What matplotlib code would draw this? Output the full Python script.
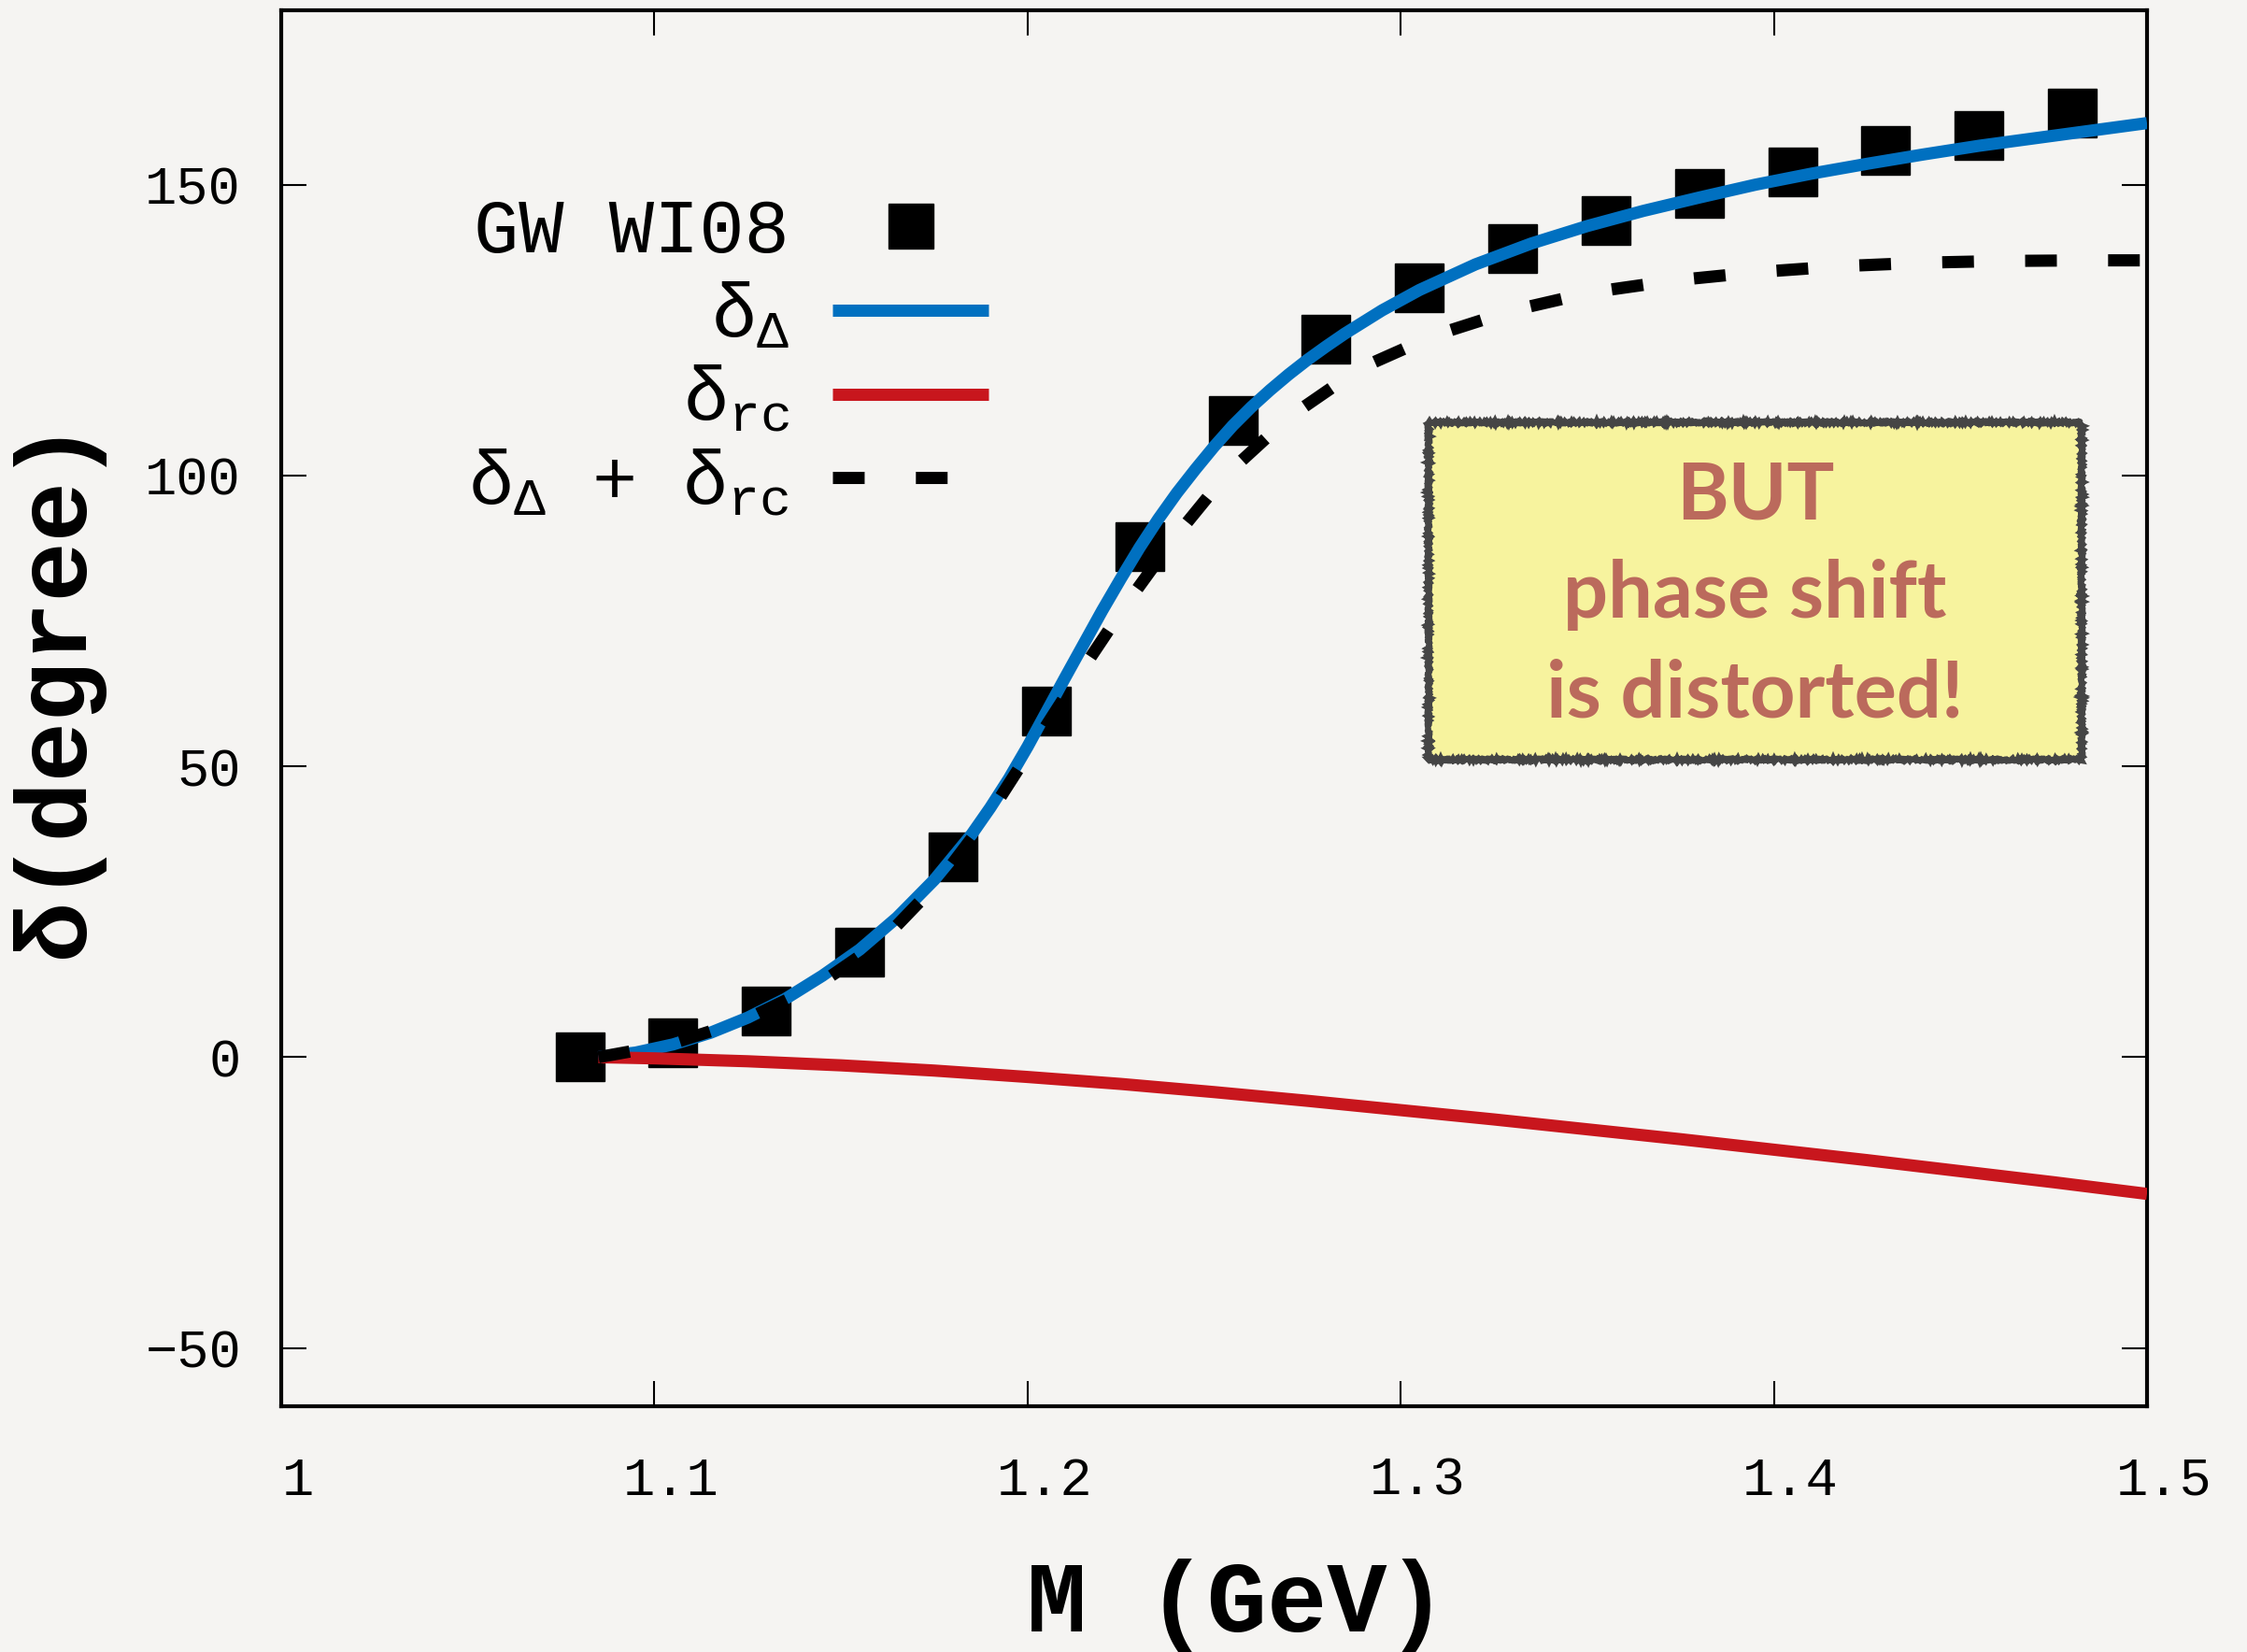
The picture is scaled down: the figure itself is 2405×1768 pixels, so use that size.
import numpy as np
import matplotlib
matplotlib.use("Agg")
import matplotlib.pyplot as plt
import matplotlib.transforms as mtransforms
from matplotlib.patches import Rectangle

plt.rcParams['font.family'] = ['Liberation Mono', 'DejaVu Sans Mono']
plt.rcParams['mathtext.fontset'] = 'custom'
plt.rcParams['mathtext.rm'] = 'Liberation Mono'
plt.rcParams['mathtext.it'] = 'Liberation Mono'
plt.rcParams['mathtext.bf'] = 'Liberation Mono:bold'

# GW WI08 partial-wave phase shifts
m_data = [1.08, 1.105, 1.13, 1.155, 1.18, 1.205, 1.23, 1.255, 1.28, 1.305,
          1.33, 1.355, 1.38, 1.405, 1.43, 1.455, 1.48]
delta_data = [0.0, 2.5, 8.0, 18.0, 34.4, 59.5, 87.8, 109.4, 123.5, 132.3,
              139.0, 143.9, 148.5, 152.2, 155.9, 158.4, 162.3]

# resonant part
m_res = [1.085, 1.095, 1.105, 1.115, 1.125, 1.135, 1.145, 1.155, 1.165, 1.175,
         1.185, 1.19, 1.195, 1.20, 1.205, 1.21, 1.215, 1.22, 1.225, 1.23,
         1.235, 1.24, 1.245, 1.25, 1.255, 1.26, 1.265, 1.27, 1.275, 1.28,
         1.285, 1.295, 1.305, 1.32, 1.335, 1.35, 1.365, 1.38, 1.395, 1.41,
         1.425, 1.44, 1.455, 1.47, 1.485, 1.50]
delta_res = [0.0, 0.8, 2.2, 4.2, 6.8, 10.0, 14.0, 18.5, 24.0, 30.5,
             38.3, 42.9, 47.9, 53.4, 59.3, 65.2, 71.0, 76.8, 82.3, 87.6,
             92.5, 97.0, 101.1, 105.0, 108.6, 111.8, 114.7, 117.4, 119.9, 122.2,
             124.4, 128.4, 131.9, 136.3, 139.9, 142.9, 145.5, 147.8, 150.0, 151.9,
             153.6, 155.2, 156.7, 158.0, 159.3, 160.6]

# rescattering correction
m_rc = [1.085, 1.10, 1.125, 1.15, 1.175, 1.20, 1.225, 1.25, 1.275, 1.30,
        1.325, 1.35, 1.375, 1.40, 1.425, 1.45, 1.475, 1.50]
delta_rc = [0.0, -0.2, -0.7, -1.4, -2.3, -3.4, -4.6, -6.0, -7.5, -9.1,
            -10.7, -12.4, -14.1, -15.9, -17.7, -19.6, -21.5, -23.5]

# sum of both
m_sum = [1.085, 1.104, 1.124, 1.144, 1.161, 1.176, 1.189, 1.202, 1.214, 1.226,
         1.239, 1.253, 1.270, 1.289, 1.309, 1.330, 1.351, 1.374, 1.396, 1.418,
         1.440, 1.462, 1.485, 1.50]
delta_sum = [0.0, 2.2, 6.3, 12.5, 20.0, 30.0, 41.0, 54.0, 66.0, 77.5,
             89.0, 100.0, 110.0, 118.4, 124.1, 128.4, 131.5, 133.6, 135.0, 136.0,
             136.6, 136.9, 137.0, 137.0]

bg = '#f5f4f2'
blue = '#0070c0'
red = '#c8161d'

fig = plt.figure(figsize=(24.05, 17.68), dpi=100, facecolor=bg)
ax = fig.add_axes([0.1252, 0.1488, 0.8303, 0.845])
ax.set_facecolor(bg)

ax.plot(m_data, delta_data, linestyle='none', marker='s', markersize=37,
        color='black', label='GW WI08', zorder=3)
ax.plot(m_res, delta_res, color=blue, lw=9.4, solid_capstyle='butt',
        solid_joinstyle='round', label=r'$\delta_{\Delta}$', zorder=4)
ax.plot(m_rc, delta_rc, color=red, lw=9.4, solid_capstyle='butt',
        solid_joinstyle='round', label=r'$\delta_{rc}$', zorder=5)
ax.plot(m_sum, delta_sum, color='black', lw=9.4, dashes=(2.6, 4.2),
        dash_capstyle='butt', label=r'$\delta_{\Delta}$ + $\delta_{rc}$', zorder=6)

ax.set_xlim(1.0, 1.5)
ax.set_ylim(-60, 180)
ax.set_xticks([1.0, 1.1, 1.2, 1.3, 1.4, 1.5])
ax.set_xticklabels(['1', '1.1', '1.2', '1.3', '1.4', '1.5'])
ax.set_yticks([-50, 0, 50, 100, 150])

ax.tick_params(direction='in', length=19.5, width=1.5, top=True, right=True,
               labelsize=41, colors='black')
ax.tick_params(axis='x', pad=38)
ax.tick_params(axis='y', pad=31)
for sp in ax.spines.values():
    sp.set_linewidth(3)

shift = mtransforms.ScaledTranslation(18 / 100, 0, fig.dpi_scale_trans)
for lbl in ax.get_xticklabels():
    lbl.set_transform(lbl.get_transform() + shift)

ax.set_xlabel('M (GeV)', fontsize=77, fontweight='bold', va='center')
ax.set_ylabel('δ(degree)', fontsize=77, fontweight='bold', va='center')
ax.xaxis.set_label_coords(0.512, -0.1426)
ax.yaxis.set_label_coords(-0.120, 0.515)

leg = ax.legend(loc='upper right', bbox_to_anchor=(0.379, 0.866), markerfirst=False,
                frameon=False, fontsize=58, handlelength=2.07, handletextpad=0.58,
                labelspacing=0.17, borderpad=0, borderaxespad=0)
leg.legend_handles[0].set_markersize(35)

# note box
box = Rectangle((0.615, 0.463), 0.350, 0.242, transform=ax.transAxes,
                facecolor='#f7f39e', edgecolor='#454545', lw=4.6, zorder=7)
box.set_sketch_params(scale=1.2, length=2, randomness=3)
ax.add_patch(box)
ax.text(0.790, 0.581, 'BUT\nphase shift\nis distorted!', transform=ax.transAxes,
        ha='center', va='center', multialignment='center', fontsize=61,
        family='Lato', fontweight='bold', color='#bb6a5c', linespacing=1.46,
        zorder=8)

fig.savefig('out.png', dpi=100, facecolor=bg)
plt.close(fig)
